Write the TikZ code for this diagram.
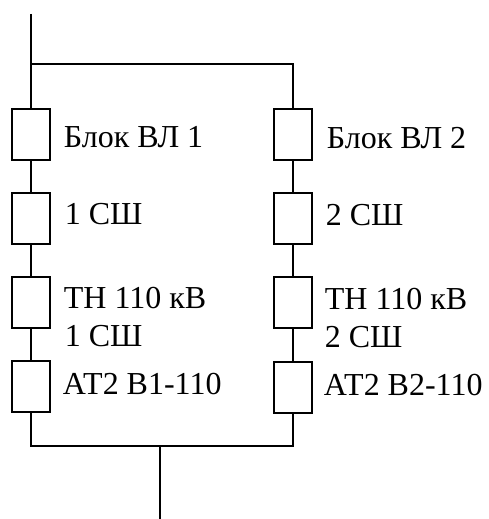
\documentclass[tikz,border=0pt]{standalone}
\usepackage{fontspec}
\setmainfont{Liberation Serif}
\begin{document}
\begin{tikzpicture}[x=1pt,y=-1pt,
  line width=1.8pt,
  elem/.style={draw,line width=1.8pt,minimum width=38pt,minimum height=51pt,inner sep=0pt,anchor=north},
  lbl/.style={anchor=base west,inner sep=0pt,font=\fontsize{32}{38}\selectfont}]
\useasboundingbox (0,0) rectangle (489,519);
% left column
\node[elem] (L1) at (31,108) {};
\node[elem] (L2) at (31,192) {};
\node[elem] (L3) at (31,276) {};
\node[elem] (L4) at (31,360) {};
% right column
\node[elem] (R1) at (293,108) {};
\node[elem] (R2) at (293,192) {};
\node[elem] (R3) at (293,276) {};
\node[elem] (R4) at (293,361) {};
% coordinates
\coordinate (top) at (31,14);
\coordinate (jl) at (31,64);
\coordinate (jr) at (293,64);
\coordinate (bl) at (31,446);
\coordinate (br) at (293,446);
\coordinate (bm) at (160,446);
\coordinate (out) at (160,519);
% connectors
\draw (top) -- (L1.north);
\draw (jl) -- (jr) -- (R1.north);
\draw (L1.south) -- (L2.north);
\draw (L2.south) -- (L3.north);
\draw (L3.south) -- (L4.north);
\draw (R1.south) -- (R2.north);
\draw (R2.south) -- (R3.north);
\draw (R3.south) -- (R4.north);
\draw (L4.south) -- (bl) -- (br) -- (R4.south);
\draw (bm) -- (out);
% labels
\node[lbl] (tL1) at (63,147) {Блок ВЛ 1};
\node[lbl] (tL2) at (64,224) {1 СШ};
\node[lbl] (tL3) at (63,308) {ТН 110 кВ};
\node[lbl] (tL3b) at (64,346) {1 СШ};
\node[lbl] (tL4) at (62,394) {АТ2 В1-110};
\node[lbl] (tR1) at (326,148) {Блок ВЛ 2};
\node[lbl] (tR2) at (325,225) {2 СШ};
\node[lbl] (tR3) at (324,309) {ТН 110 кВ};
\node[lbl] (tR3b) at (324,347) {2 СШ};
\node[lbl] (tR4) at (323,395) {АТ2 В2-110};
\end{tikzpicture}
\end{document}
